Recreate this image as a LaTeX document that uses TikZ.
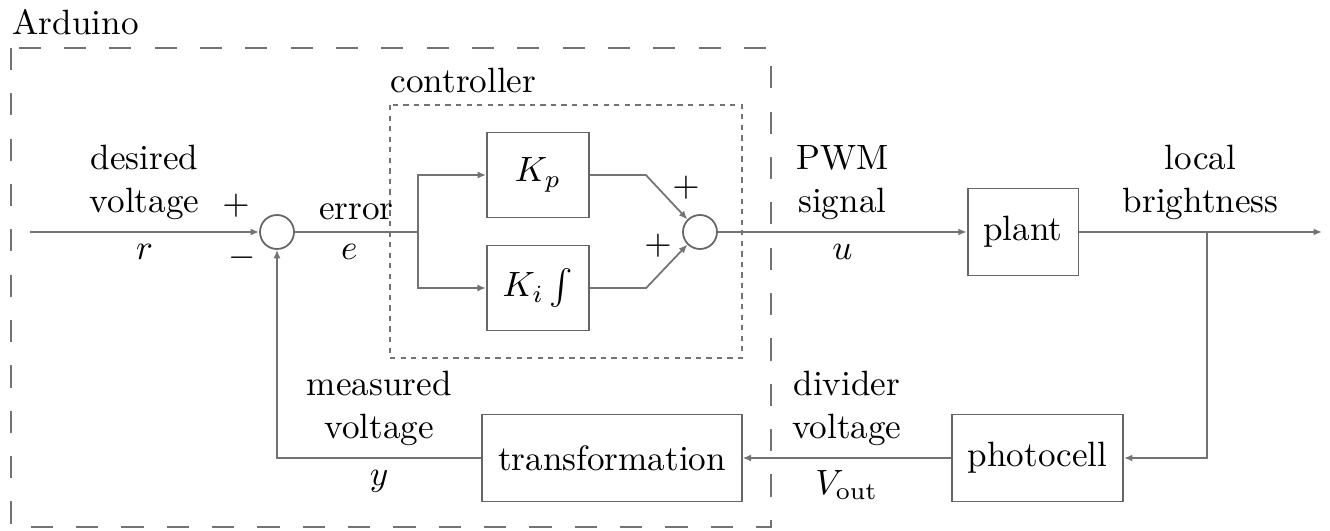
\documentclass[tikz,border=0pt]{standalone}
\usetikzlibrary{arrows.meta,positioning}

\tikzset{every picture/.style={line width=0.5pt}}
\tikzset{
    block/.style={draw=black!60, minimum height=0.87cm, inner sep=4.5pt},
    sumnode/.style={draw=black!60, circle, minimum size=0.34cm, inner sep=0pt},
    sig/.style={draw=black!55, -{Latex[length=2.4pt,width=2pt]}},
    wire/.style={draw=black!55},
    lbl/.style={align=center},
}

\begin{document}
\begin{tikzpicture}
    \useasboundingbox (0,0) rectangle (13.30,5.31);
    \draw[black!55, line width=0.6pt, dash pattern=on 6.3pt off 6.6pt] (0.11,4.83) rectangle (7.71,0.04);
    \node[anchor=base west] (ard) at (0.0,4.96) {Arduino};
    \draw[black!55, dash pattern=on 1.5pt off 1.5pt] (3.90,4.26) rectangle (7.42,1.73);
    \node[anchor=base west] (ctl) at (3.78,4.38) {controller};

    \coordinate (in) at (0.30,2.99);
    \node[sumnode] (sum1) at (2.77,2.99) {};
    \coordinate (split) at (4.18,2.99);
    \node[block, minimum width=1.02cm, minimum height=0.85cm] (kp) at (5.38,3.56) {$K_p$};
    \node[block, minimum width=1.02cm, minimum height=0.85cm] (ki) at (5.38,2.43) {$K_i \int$};
    \node[sumnode] (sum2) at (7.00,2.99) {};
    \node[block] (plant) at (10.23,2.99) {plant};
    \coordinate (tap) at (12.07,2.99);
    \coordinate (out) at (13.22,2.99);
    \coordinate (down) at (12.07,0.73);
    \node[block] (photo) at (10.375,0.73) {photocell};
    \node[block] (trans) at (6.12,0.73) {transformation};

    \node (p1) at (2.36,3.25) {$+$};
    \node (m1) at (2.42,2.73) {$-$};
    \node (p2) at (6.86,3.43) {$+$};
    \node (p3) at (6.58,2.85) {$+$};

    \draw[sig] (in) -- node[lbl, above] {desired\\voltage} node[below] {$r$} (sum1);
    \draw[wire] (sum1) -- node[above] {error} node[below, xshift=-2pt] {$e$} (split);
    \draw[sig] (split) |- (kp);
    \draw[sig] (split) |- (ki);
    \draw[sig] (kp.east) -- ++(0.56,0) -- (sum2.135);
    \draw[sig] (ki.east) -- ++(0.56,0) -- (sum2.-135);
    \draw[sig] (sum2) -- node[lbl, above] {PWM\\signal} node[below] {$u$} (plant);
    \draw[sig] (plant) -- node[lbl, above] {local\\brightness} (out);
    \draw[sig] (tap) -- (down) -- (photo);
    \draw[sig] (photo) -- node[lbl, above] {divider\\voltage} node[below] {$V_{\mathrm{out}}$} (trans);
    \draw[sig] (trans.west) -- node[lbl, above] {measured\\voltage} node[below] {$y$} (sum1 |- trans.west) -- (sum1.south);
\end{tikzpicture}
\end{document}
